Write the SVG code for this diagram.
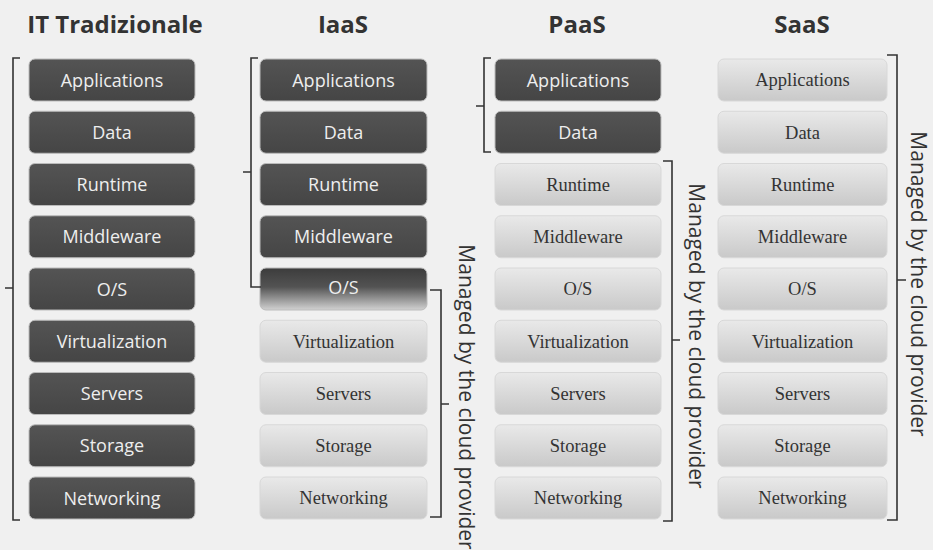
<svg xmlns="http://www.w3.org/2000/svg" width="933" height="550" viewBox="0 0 933 550">
<defs>
<linearGradient id="light" x1="0" y1="0" x2="0" y2="1">
<stop offset="0" stop-color="#e9e9e9"/>
<stop offset="1" stop-color="#c9c9c9"/>
</linearGradient>
<linearGradient id="dark" x1="0" y1="0" x2="0" y2="1">
<stop offset="0" stop-color="#545454"/>
<stop offset="1" stop-color="#454545"/>
</linearGradient>
<linearGradient id="fade" x1="0" y1="0" x2="0" y2="1">
<stop offset="0" stop-color="#3c3c3c"/>
<stop offset="0.45" stop-color="#535353"/>
<stop offset="1" stop-color="#d2d2d2"/>
</linearGradient>
<style>
.hd{font-family:"Open Sans","DejaVu Sans",sans-serif;font-weight:bold;font-size:24px;fill:#333;text-anchor:middle}
.d rect{fill:url(#dark);stroke:#bbb;stroke-width:1}
.l rect{fill:url(#light);stroke:#d8d8d8;stroke-width:1}
.f rect{fill:url(#fade);stroke:#bbb;stroke-width:1}
.d text,.f text{font-family:"Open Sans","DejaVu Sans",sans-serif;font-size:18px;fill:#eeeeee;text-anchor:middle}
.l text{font-family:"Liberation Serif","Times New Roman",serif;font-size:18.5px;fill:#333;text-anchor:middle}
.br{fill:none;stroke:#333;stroke-width:1.6}
.vt{font-family:"Open Sans","DejaVu Sans",sans-serif;font-size:21px;fill:#333;text-anchor:middle}
</style>
</defs>
<rect width="933" height="550" fill="#f0f0f0"/>
<g id="headers">
<text class="hd" x="115" y="33">IT Tradizionale</text>
<text class="hd" x="343" y="33">IaaS</text>
<text class="hd" x="577" y="33">PaaS</text>
<text class="hd" x="802" y="33">SaaS</text>
</g>
<g id="col-it">
<g id="it-app" class="d"><rect x="29" y="59" width="166" height="42" rx="6"/><text x="112" y="86.5">Applications</text></g>
<g id="it-data" class="d"><rect x="29" y="111.25" width="166" height="42" rx="6"/><text x="112" y="138.75">Data</text></g>
<g id="it-runtime" class="d"><rect x="29" y="163.5" width="166" height="42" rx="6"/><text x="112" y="191">Runtime</text></g>
<g id="it-mw" class="d"><rect x="29" y="215.75" width="166" height="42" rx="6"/><text x="112" y="243.25">Middleware</text></g>
<g id="it-os" class="d"><rect x="29" y="268" width="166" height="42" rx="6"/><text x="112" y="295.5">O/S</text></g>
<g id="it-virt" class="d"><rect x="29" y="320.25" width="166" height="42" rx="6"/><text x="112" y="347.75">Virtualization</text></g>
<g id="it-srv" class="d"><rect x="29" y="372.5" width="166" height="42" rx="6"/><text x="112" y="400">Servers</text></g>
<g id="it-sto" class="d"><rect x="29" y="424.75" width="166" height="42" rx="6"/><text x="112" y="452.25">Storage</text></g>
<g id="it-net" class="d"><rect x="29" y="477" width="166" height="42" rx="6"/><text x="112" y="504.5">Networking</text></g>
</g>
<g id="col-iaas">
<g id="iaas-app" class="d"><rect x="260" y="59" width="167" height="42" rx="6"/><text x="343.5" y="86.5">Applications</text></g>
<g id="iaas-data" class="d"><rect x="260" y="111.25" width="167" height="42" rx="6"/><text x="343.5" y="138.75">Data</text></g>
<g id="iaas-runtime" class="d"><rect x="260" y="163.5" width="167" height="42" rx="6"/><text x="343.5" y="191">Runtime</text></g>
<g id="iaas-mw" class="d"><rect x="260" y="215.75" width="167" height="42" rx="6"/><text x="343.5" y="243.25">Middleware</text></g>
<g id="iaas-os" class="f"><rect x="260" y="268" width="167" height="42" rx="6"/><text x="343.5" y="293.5">O/S</text></g>
<g id="iaas-virt" class="l"><rect x="260" y="320.25" width="167" height="42" rx="6"/><text x="343.5" y="347.5">Virtualization</text></g>
<g id="iaas-srv" class="l"><rect x="260" y="372.5" width="167" height="42" rx="6"/><text x="343.5" y="399.75">Servers</text></g>
<g id="iaas-sto" class="l"><rect x="260" y="424.75" width="167" height="42" rx="6"/><text x="343.5" y="452">Storage</text></g>
<g id="iaas-net" class="l"><rect x="260" y="477" width="167" height="42" rx="6"/><text x="343.5" y="504.25">Networking</text></g>
</g>
<g id="col-paas">
<g id="paas-app" class="d"><rect x="495" y="59" width="166" height="42" rx="6"/><text x="578" y="86.5">Applications</text></g>
<g id="paas-data" class="d"><rect x="495" y="111.25" width="166" height="42" rx="6"/><text x="578" y="138.75">Data</text></g>
<g id="paas-runtime" class="l"><rect x="495" y="163.5" width="166" height="42" rx="6"/><text x="578" y="190.75">Runtime</text></g>
<g id="paas-mw" class="l"><rect x="495" y="215.75" width="166" height="42" rx="6"/><text x="578" y="243">Middleware</text></g>
<g id="paas-os" class="l"><rect x="495" y="268" width="166" height="42" rx="6"/><text x="578" y="295.25">O/S</text></g>
<g id="paas-virt" class="l"><rect x="495" y="320.25" width="166" height="42" rx="6"/><text x="578" y="347.5">Virtualization</text></g>
<g id="paas-srv" class="l"><rect x="495" y="372.5" width="166" height="42" rx="6"/><text x="578" y="399.75">Servers</text></g>
<g id="paas-sto" class="l"><rect x="495" y="424.75" width="166" height="42" rx="6"/><text x="578" y="452">Storage</text></g>
<g id="paas-net" class="l"><rect x="495" y="477" width="166" height="42" rx="6"/><text x="578" y="504.25">Networking</text></g>
</g>
<g id="col-saas">
<g id="saas-app" class="l"><rect x="718" y="59" width="169" height="42" rx="6"/><text x="802.5" y="86.25">Applications</text></g>
<g id="saas-data" class="l"><rect x="718" y="111.25" width="169" height="42" rx="6"/><text x="802.5" y="138.5">Data</text></g>
<g id="saas-runtime" class="l"><rect x="718" y="163.5" width="169" height="42" rx="6"/><text x="802.5" y="190.75">Runtime</text></g>
<g id="saas-mw" class="l"><rect x="718" y="215.75" width="169" height="42" rx="6"/><text x="802.5" y="243">Middleware</text></g>
<g id="saas-os" class="l"><rect x="718" y="268" width="169" height="42" rx="6"/><text x="802.5" y="295.25">O/S</text></g>
<g id="saas-virt" class="l"><rect x="718" y="320.25" width="169" height="42" rx="6"/><text x="802.5" y="347.5">Virtualization</text></g>
<g id="saas-srv" class="l"><rect x="718" y="372.5" width="169" height="42" rx="6"/><text x="802.5" y="399.75">Servers</text></g>
<g id="saas-sto" class="l"><rect x="718" y="424.75" width="169" height="42" rx="6"/><text x="802.5" y="452">Storage</text></g>
<g id="saas-net" class="l"><rect x="718" y="477" width="169" height="42" rx="6"/><text x="802.5" y="504.25">Networking</text></g>
</g>
<g id="connectors">
<path class="br" d="M20,58 H13 V520 H20 M13,288 H5"/>
<path class="br" d="M258,58 H251 V287 H261 M251,172 H243"/>
<path class="br" d="M430,290 H441 V517 H430 M441,404 H449"/>
<path class="br" d="M491,58 H484 V152 H491 M484,106 H476"/>
<path class="br" d="M663,161 H672 V521 H663 M672,340 H680"/>
<path class="br" d="M887,55 H897 V520 H887 M897,280 H906"/>
</g>
<g id="labels">
<text class="vt" transform="translate(459,397) rotate(90)">Managed by the cloud provider</text>
<text class="vt" transform="translate(689,336) rotate(90)">Managed by the cloud provider</text>
<text class="vt" transform="translate(911,284) rotate(90)">Managed by the cloud provider</text>
</g>
</svg>
